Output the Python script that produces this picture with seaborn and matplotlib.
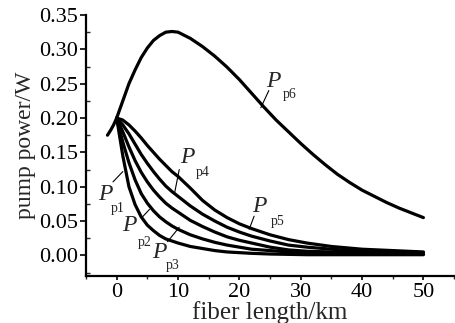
import matplotlib
matplotlib.use("Agg")
import numpy as np
import pandas as pd
import matplotlib.pyplot as plt
import seaborn as sns
from matplotlib.ticker import MultipleLocator, FormatStrFormatter

# ---- data ----
x_low = [0, 1, 2, 3, 4, 5, 6, 7, 8, 9, 10, 12, 14, 16, 18, 20, 22, 25, 28, 31, 35, 40, 45, 50]
pp1 = [.200, .145, .100, .074, .056, .044, .036, .029, .024, .021, .018, .013, .010, .007, .005, .004, .003, .002, .0015, .001, .001, .001, .001, .001]
pp2 = [.200, .165, .135, .110, .090, .076, .065, .056, .049, .043, .038, .030, .024, .019, .015, .012, .009, .007, .005, .004, .003, .002, .002, .002]
pp3 = [.200, .180, .158, .138, .121, .107, .095, .085, .076, .069, .063, .051, .042, .034, .027, .022, .018, .012, .008, .006, .005, .004, .003, .003]
pp4 = [.200, .190, .177, .162, .147, .134, .122, .111, .101, .093, .086, .072, .060, .050, .041, .034, .028, .021, .015, .012, .009, .006, .005, .004]
pp5 = [.200, .197, .190, .181, .171, .160, .150, .140, .131, .122, .115, .098, .080, .066, .055, .046, .039, .030, .023, .018, .013, .009, .007, .005]

x_p6 = [-1.5, -1, -0.5, 0, 1, 2, 3, 4, 5, 6, 7, 8, 9, 10, 12, 14, 16, 18, 20, 22, 24, 26, 28, 30,
        32, 34, 36, 38, 40, 42, 44, 46, 48, 50]
pp6 = [.175, .182, .190, .200, .225, .250, .270, .288, .302, .313, .320, .325, .326, .325, .316, .304,
       .290, .274, .256, .236, .216, .197, .180, .163, .147, .132, .118, .106, .095, .086, .077, .069,
       .062, .055]

series_names = ["Pp1", "Pp2", "Pp3", "Pp4", "Pp5"]
x_ticks = [0, 10, 20, 30, 40, 50]
y_ticks = [0.00, 0.05, 0.10, 0.15, 0.20, 0.25, 0.30, 0.35]

rows = []
for name, vals in zip(series_names, [pp1, pp2, pp3, pp4, pp5]):
    for xv, yv in zip(x_low, vals):
        rows.append((name, xv, yv))
for xv, yv in zip(x_p6, pp6):
    rows.append(("Pp6", xv, yv))
df = pd.DataFrame(rows, columns=["series", "x", "y"])

# ---- style ----
sns.set_style("ticks")
plt.rcParams["font.family"] = ["Liberation Serif", "DejaVu Serif"]

fig = plt.figure(figsize=(4.55, 3.23), dpi=100)
ax = fig.add_axes([86 / 455, 1 - 276 / 323, 1 - 86 / 455 - 0.002, (276 - 15) / 323])

sns.lineplot(data=df, x="x", y="y", units="series", estimator=None, sort=False,
             color="black", lw=2.3, ax=ax, legend=False)

ax.set_xlim(-5, 55)
ax.set_ylim(-0.03, 0.35)
ax.set_xticks(x_ticks)
ax.set_yticks(y_ticks)
ax.xaxis.set_minor_locator(MultipleLocator(5))
ax.yaxis.set_minor_locator(MultipleLocator(0.025))
ax.yaxis.set_major_formatter(FormatStrFormatter("%.2f"))

for s in ["top", "right"]:
    ax.spines[s].set_visible(False)
for s in ["left", "bottom"]:
    ax.spines[s].set_linewidth(1.6)
    ax.spines[s].set_color("black")

ax.tick_params(axis="y", which="major", direction="out", length=4, width=1.2, labelsize=16, pad=2, colors="black")
ax.tick_params(axis="y", which="minor", direction="in", length=3, width=1.0)
ax.tick_params(axis="x", which="major", direction="out", length=3, width=1.2, labelsize=16, pad=2, colors="black")
ax.tick_params(axis="x", which="minor", direction="out", length=2, width=1.0)

ax.set_xlabel("fiber length/km", fontsize=18, labelpad=-1)
ax.set_ylabel("pump power/W", fontsize=17, labelpad=2)

# ---- curve labels ----
labels = [
    ("p1", (-1.9, 0.089), (0.2, 0.069), (-0.6, 0.107), (1.0, 0.122)),
    ("p2", (2.0, 0.044), (4.5, 0.019), (4.2, 0.056), (5.35, 0.067)),
    ("p3", (7.0, 0.004), (9.2, -0.014), (8.3, 0.020), (10.2, 0.041)),
    ("p4", (11.5, 0.142), (14.1, 0.120), (10.2, 0.125), (9.4, 0.089)),
    ("p5", (23.3, 0.071), (26.2, 0.049), (22.4, 0.057), (21.6, 0.038)),
    ("p6", (25.6, 0.253), (28.2, 0.234), (24.8, 0.240), (23.5, 0.215)),
]
for sub, pP, pS, l0, l1 in labels:
    ax.text(pP[0], pP[1], "P", style="italic", fontsize=17, ha="center", va="center", clip_on=False)
    ax.text(pS[0], pS[1], sub, fontsize=10, ha="center", va="center", clip_on=False)
    ax.plot([l0[0], l1[0]], [l0[1], l1[1]], color="black", lw=0.8)

fig.savefig("out.png", dpi=100)
